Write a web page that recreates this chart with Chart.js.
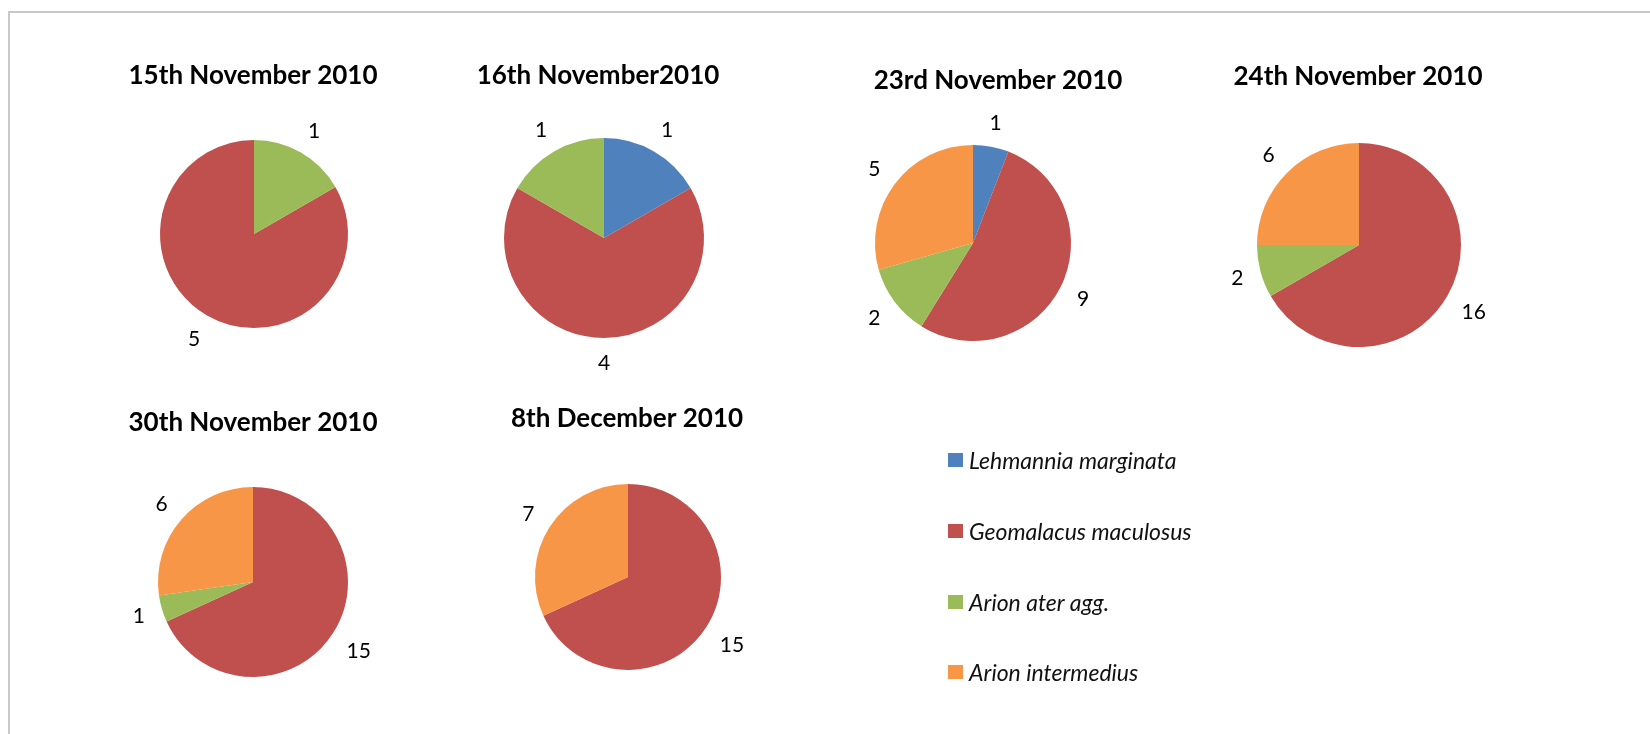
<!DOCTYPE html>
<html>
<head>
<meta charset="utf-8">
<title>Slug counts, November - December 2010</title>
<script src="https://cdn.jsdelivr.net/npm/chart.js@4.4.1/dist/chart.umd.min.js"></script>
<style>
  html, body { margin: 0; padding: 0; background: #fff; }
  #stage { position: relative; width: 1650px; height: 734px; overflow: hidden; font-family: Lato, sans-serif; }
  #frame {
    position: absolute; left: 8px; top: 11px; width: 1700px; height: 800px;
    border-top: 2px solid #c8c8c8; border-left: 2px solid #c8c8c8;
  }
  #stage canvas { position: absolute; left: 0; top: 0; }
  .legend-row { position: absolute; left: 948px; height: 30px; display: flex; align-items: center; }
  .legend-box { width: 15px; height: 14px; margin-right: 6px; }
  .legend-text { font-style: italic; font-size: 23px; color: #111; white-space: nowrap; }
</style>
</head>
<body>
<div id="stage">
  <div id="frame"></div>
</div>
<script>
// ── Data ─────────────────────────────────────────────────────────────────────
const species = ['Lehmannia marginata', 'Geomalacus maculosus', 'Arion ater agg.', 'Arion intermedius'];
const speciesColors = ['#4F81BD', '#C0504D', '#9BBB59', '#F79646'];

const dates = ['15th November 2010', '16th November2010', '23rd November 2010',
               '24th November 2010', '30th November 2010', '8th December 2010'];

// counts per species, same order as `species`
const nov15 = [0, 5, 1, 0];
const nov16 = [1, 4, 1, 0];
const nov23 = [1, 9, 2, 5];
const nov24 = [0, 16, 2, 6];
const nov30 = [0, 15, 1, 6];
const dec08 = [0, 15, 0, 7];
const counts = [nov15, nov16, nov23, nov24, nov30, dec08];

// ── Layout (page pixels) ─────────────────────────────────────────────────────
const W = 1650, H = 734;
const pieLayout = [
  { cx: 254,  cy: 234, r: 94,  tx: 253,  ty: 76, rot: 60 },
  { cx: 604,  cy: 238, r: 100, tx: 598,  ty: 76, rot: 0 },
  { cx: 973,  cy: 243, r: 98,  tx: 998,  ty: 81, rot: 0 },
  { cx: 1359, cy: 245, r: 102, tx: 1358, ty: 77, rot: 0 },
  { cx: 253,  cy: 582, r: 95,  tx: 253,  ty: 423, rot: 0 },
  { cx: 628,  cy: 577, r: 93,  tx: 627,  ty: 419, rot: 0 },
];
const legendRowsY = [460, 531, 602, 672];

Chart.defaults.font.family = 'Lato, sans-serif';

// ── Title + outside-end value labels ─────────────────────────────────────────
const pieDecor = {
  id: 'pieDecor',
  afterDatasetsDraw(chart, args, opts) {
    const ctx = chart.ctx;
    ctx.save();
    ctx.fillStyle = '#000';
    ctx.textAlign = 'center';
    ctx.textBaseline = 'middle';

    ctx.font = 'bold 26px Lato, sans-serif';
    ctx.fillText(opts.title, opts.tx, opts.ty);

    ctx.font = '21px Lato, sans-serif';
    const ds = chart.data.datasets[0];
    chart.getDatasetMeta(0).data.forEach((arc, i) => {
      const v = ds.data[i];
      if (!v) return;
      const p = arc.getProps(['x', 'y', 'startAngle', 'endAngle', 'outerRadius'], true);
      const mid = (p.startAngle + p.endAngle) / 2;
      const cos = Math.cos(mid), sin = Math.sin(mid);
      const txt = String(v);
      const w = ctx.measureText(txt).width;
      const dist = p.outerRadius + 16 + Math.abs(cos) * w / 2 + Math.abs(sin) * 8;
      ctx.fillText(txt, p.x + cos * dist, p.y + sin * dist + 1);
    });
    ctx.restore();
  }
};

// ── Pies ─────────────────────────────────────────────────────────────────────
const stage = document.getElementById('stage');

counts.forEach((values, k) => {
  const L = pieLayout[k];
  const canvas = document.createElement('canvas');
  canvas.width = W;
  canvas.height = H;
  canvas.style.width = W + 'px';
  canvas.style.height = H + 'px';
  stage.appendChild(canvas);

  new Chart(canvas, {
    type: 'pie',
    data: {
      labels: species,
      datasets: [{
        data: values,
        backgroundColor: speciesColors,
        borderWidth: 0,
      }],
    },
    options: {
      responsive: false,
      animation: false,
      devicePixelRatio: 1,
      rotation: L.rot,
      events: [],
      layout: {
        padding: {
          left: L.cx - L.r,
          top: L.cy - L.r,
          right: W - L.cx - L.r,
          bottom: H - L.cy - L.r,
        },
      },
      plugins: {
        legend: { display: false },
        tooltip: { enabled: false },
        pieDecor: { title: dates[k], tx: L.tx, ty: L.ty },
      },
    },
    plugins: [pieDecor],
  });
});

// ── Legend ───────────────────────────────────────────────────────────────────
species.forEach((name, i) => {
  const row = document.createElement('div');
  row.className = 'legend-row';
  row.style.top = (legendRowsY[i] - 15) + 'px';
  row.innerHTML = `<span class="legend-box" style="background:${speciesColors[i]}"></span>` +
                  `<span class="legend-text">${name}</span>`;
  stage.appendChild(row);
});
</script>
</body>
</html>
